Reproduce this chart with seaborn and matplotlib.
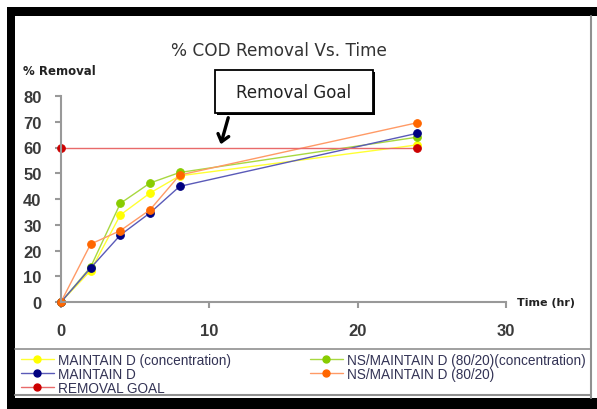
import matplotlib
matplotlib.use("Agg")
import matplotlib.pyplot as plt
import seaborn as sns
import pandas as pd
from matplotlib.patches import Rectangle, FancyArrowPatch
from matplotlib.lines import Line2D

# ---------------- data ----------------
time_hr = [0, 2, 4, 6, 8, 24]
maintain_d_conc = [0, 12.2, 33.8, 42.3, 49.0, 61.0]
ns_maintain_conc = [0, 13.6, 38.3, 46.2, 50.3, 64.0]
maintain_d = [0, 13.2, 26.0, 34.6, 44.9, 65.5]
ns_maintain = [0, 22.5, 27.7, 35.8, 49.3, 69.6]
goal_time = [0, 24]
goal_value = [60, 60]

series_labels = ["MAINTAIN D (concentration)", "NS/MAINTAIN D (80/20)(concentration)",
                 "MAINTAIN D", "NS/MAINTAIN D (80/20)", "REMOVAL GOAL"]
title_text = "% COD Removal Vs. Time"
ylabel_text = "% Removal"
xlabel_text = "Time (hr)"
annot_text = "Removal Goal"
x_ticks = [0, 10, 20, 30]
y_ticks = [0, 10, 20, 30, 40, 50, 60, 70, 80]

W, H = 597, 410
sns.set_theme(style="white")
plt.rcParams["font.family"] = ["DejaVu Sans"]

fig = plt.figure(figsize=(W / 100, H / 100), dpi=100)
fig.patch.set_facecolor("white")


def fx(x):
    return x / W


def fy(y):
    return 1 - y / H


ax = fig.add_axes([fx(61), fy(303), fx(506) - fx(61), fy(97) - fy(303)])
ax.set_facecolor("none")

styles = [
    (maintain_d_conc, time_hr, series_labels[0], "#FFFF33", "#FFFF00"),
    (ns_maintain_conc, time_hr, series_labels[1], "#A8D840", "#88CC00"),
    (maintain_d, time_hr, series_labels[2], "#5A5AB8", "#000080"),
    (ns_maintain, time_hr, series_labels[3], "#FF9A66", "#FF6600"),
    (goal_value, goal_time, series_labels[4], "#E86A6A", "#CC0000"),
]
handles = {}
for vals, t, lab, lc, mc in styles:
    df = pd.DataFrame({"t": t, "v": vals})
    sns.lineplot(data=df, x="t", y="v", ax=ax, color=lc, linewidth=1.0,
                 marker="o", markersize=5.5, markerfacecolor=mc,
                 markeredgecolor=mc, clip_on=False, legend=False)
    handles[lab] = Line2D([], [], color=lc, linewidth=1.0, marker="o",
                          markersize=5, markerfacecolor=mc, markeredgecolor=mc)

ax.set_xlim(0, 30)
ax.set_ylim(0, 80)
ax.set_xticks(x_ticks)
ax.set_yticks(y_ticks)
ax.set_xlabel("")
ax.set_ylabel("")
for s in ["top", "right"]:
    ax.spines[s].set_visible(False)
for s in ["left", "bottom"]:
    ax.spines[s].set_color("#999999")
    ax.spines[s].set_linewidth(1.5)
ax.tick_params(axis="both", which="both", direction="out", length=4, width=1.5,
               color="#999999", labelcolor="#3a3a3a", labelsize=12)
ax.tick_params(axis="x", pad=11)
ax.tick_params(axis="y", pad=10)
ax.tick_params(left=True, bottom=True)
for lbl in ax.get_xticklabels() + ax.get_yticklabels():
    lbl.set_fontfamily("Liberation Sans")
    lbl.set_fontweight("bold")

# texts
fig.text(fx(279), fy(51), title_text, ha="center", va="center", fontsize=12.2,
         color="#333333")
fig.text(fx(23), fy(72), ylabel_text, ha="left", va="center", fontsize=8.5,
         color="#222222", fontweight="bold")
fig.text(fx(517), fy(303), xlabel_text, ha="left", va="center", fontsize=8,
         color="#222222", fontweight="bold")

# annotation box
fig.add_artist(Rectangle((fx(217), fy(116)), fx(373) - fx(215), fy(71) - fy(114),
                         transform=fig.transFigure, facecolor="black",
                         edgecolor="none"))
fig.add_artist(Rectangle((fx(215), fy(114)), fx(373) - fx(215), fy(71) - fy(114),
                         transform=fig.transFigure, facecolor="white",
                         edgecolor="black", linewidth=1.3))
fig.text(fx(294), fy(93), annot_text, ha="center", va="center", fontsize=12,
         color="#222222")
fig.add_artist(FancyArrowPatch(
    (fx(229), fy(116)), (fx(220), fy(148)), transform=fig.transFigure,
    arrowstyle="->,head_length=5,head_width=4", color="black", linewidth=2.4))

# frame
fig.add_artist(Rectangle((fx(7), fy(410)), fx(8), fy(8) - fy(410),
                         transform=fig.transFigure, facecolor="black", edgecolor="none"))
fig.add_artist(Rectangle((fx(7), fy(17)), fx(597) - fx(7), fy(8) - fy(17),
                         transform=fig.transFigure, facecolor="black", edgecolor="none"))
fig.add_artist(Rectangle((fx(7), fy(410)), fx(597) - fx(7), fy(399) - fy(410),
                         transform=fig.transFigure, facecolor="black", edgecolor="none"))
fig.add_artist(Line2D([fx(591), fx(591)], [fy(17), fy(399)], transform=fig.transFigure,
                      color="#909090", linewidth=1.5))
fig.add_artist(Line2D([fx(15), fx(591)], [fy(350), fy(350)], transform=fig.transFigure,
                      color="#909090", linewidth=1.2))
fig.add_artist(Line2D([fx(15), fx(591)], [fy(396), fy(396)], transform=fig.transFigure,
                      color="#909090", linewidth=1.5))

# legends
col1 = [series_labels[0], series_labels[2], series_labels[4]]
col2 = [series_labels[1], series_labels[3]]
legkw = dict(frameon=False, handlelength=2.4, handletextpad=0.3, labelspacing=0.0,
             borderaxespad=0, borderpad=0,
             prop={"family": "Liberation Sans", "size": 9.8})
leg1 = fig.legend([handles[l] for l in col1], col1, loc="upper left",
                  bbox_to_anchor=(fx(21), fy(354)), **legkw)
leg2 = fig.legend([handles[l] for l in col2], col2, loc="upper left",
                  bbox_to_anchor=(fx(310), fy(354)), **legkw)
for leg in (leg1, leg2):
    for t in leg.get_texts():
        t.set_color("#333355")

fig.savefig("out.png", dpi=100)
